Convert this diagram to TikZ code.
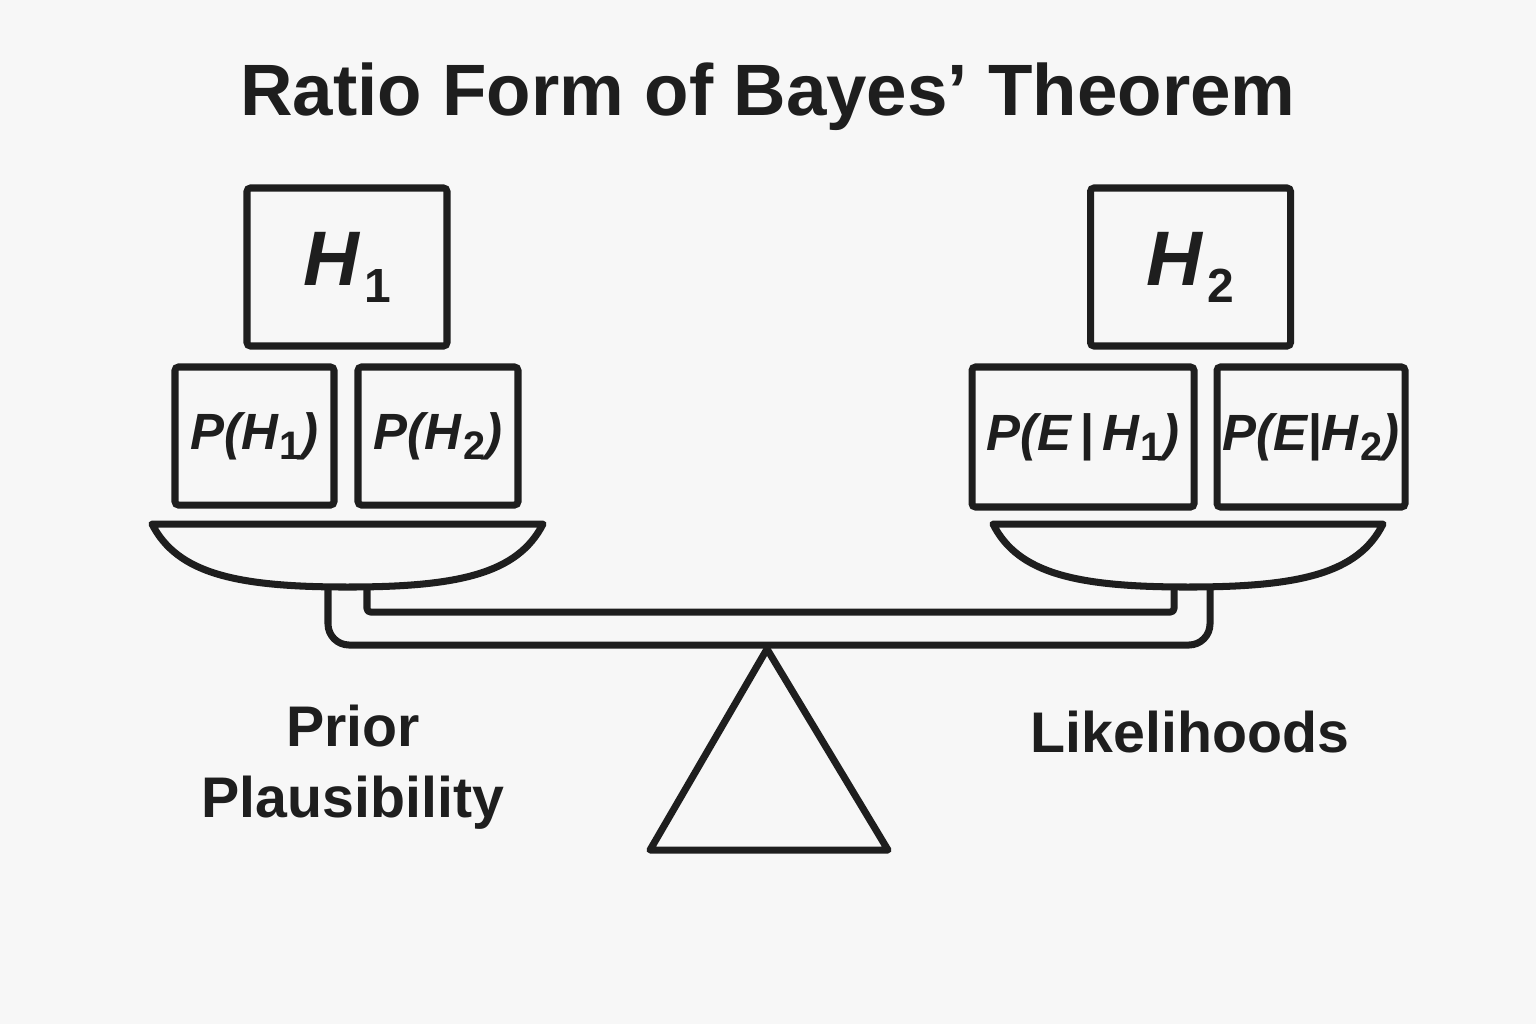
\documentclass[tikz,border=0pt]{standalone}
\usepackage{fontspec}
\setmainfont{Liberation Sans}
\usepackage{graphicx}
\usetikzlibrary{positioning,calc}
\definecolor{ink}{RGB}{30,30,30}
\definecolor{paper}{RGB}{247,247,247}
% lowered subscripts for the hypotheses
\newcommand{\hyp}[1]{\textit{H}\kern0.5pt\raisebox{-0.2em}{\scalebox{0.78}{\normalfont\bfseries #1}}}
\newcommand{\bighyp}[1]{\textit{H}\kern1.5pt\raisebox{-0.22em}{\scalebox{0.62}{\normalfont\bfseries #1}}}
\tikzset{
    weight/.style={draw=ink, line width=2pt, rounded corners=1pt, inner sep=0pt,
        font=\fontsize{14.5}{17}\selectfont\bfseries\itshape, text=ink},
    bigweight/.style={weight, minimum width=2.00cm, minimum height=1.58cm,
        font=\fontsize{22}{24}\selectfont\bfseries\itshape},
    part/.style={draw=ink, line width=2pt, line join=round},
    caption/.style={text=ink, font=\fontsize{16.3}{20.2}\selectfont\bfseries, align=center}
}
\begin{document}
\begin{tikzpicture}
    \fill[paper] (0,0) rectangle (15.36,-10.24);
    \useasboundingbox (0,0) rectangle (15.36,-10.24);

    % Title
    \node[text=ink, font=\fontsize{20.7}{24}\selectfont\bfseries] (title) at (7.68,-0.97)
        {Ratio Form of Bayes’ Theorem};

    % Left pan: priors
    \node[bigweight] (h1) at (3.47,-2.67) {\bighyp{1}};
    \node[weight, minimum width=1.59cm, minimum height=1.38cm] (ph1) at (2.545,-4.36) {P(\hyp{1})};
    \node[weight, minimum width=1.60cm, minimum height=1.38cm] (ph2) at (4.38,-4.36) {P(\hyp{2})};
    \coordinate (lpan) at (3.475,-5.24);
    \draw[part] ($(lpan)+(-1.955,0)$) -- ($(lpan)+(1.955,0)$)
        .. controls ($(lpan)+(1.70,-0.50)$) and ($(lpan)+(1.10,-0.63)$) .. ($(lpan)+(0,-0.63)$)
        .. controls ($(lpan)+(-1.10,-0.63)$) and ($(lpan)+(-1.70,-0.50)$) .. cycle;

    % Right pan: likelihoods
    \node[bigweight] (h2) at (11.905,-2.67) {\bighyp{2}};
    \node[weight, minimum width=2.22cm, minimum height=1.40cm] (peh1) at (10.83,-4.37) {P(E\,|\,\hyp{1})};
    \node[weight, minimum width=1.88cm, minimum height=1.40cm] (peh2) at (13.11,-4.37) {P(E|\hyp{2})};
    \coordinate (rpan) at (11.88,-5.24);
    \draw[part] ($(rpan)+(-1.95,0)$) -- ($(rpan)+(1.95,0)$)
        .. controls ($(rpan)+(1.70,-0.50)$) and ($(rpan)+(1.10,-0.63)$) .. ($(rpan)+(0,-0.63)$)
        .. controls ($(rpan)+(-1.10,-0.63)$) and ($(rpan)+(-1.70,-0.50)$) .. cycle;

    % Beam
    \draw[part, rounded corners=6pt] (3.28,-5.87) -- (3.28,-6.45) -- (12.10,-6.45) -- (12.10,-5.87);
    \draw[part, rounded corners=1pt] (3.67,-5.87) -- (3.67,-6.12) -- (11.74,-6.12) -- (11.74,-5.87);

    % Fulcrum
    \coordinate (apex) at (7.67,-6.49);
    \draw[part] (apex) -- (8.88,-8.50) -- (6.50,-8.50) -- cycle;

    % Captions
    \node[caption] (prior) at (3.53,-7.67) {Prior\\Plausibility};
    \node[caption] (lik) at (11.90,-7.32) {Likelihoods};
\end{tikzpicture}
\end{document}
